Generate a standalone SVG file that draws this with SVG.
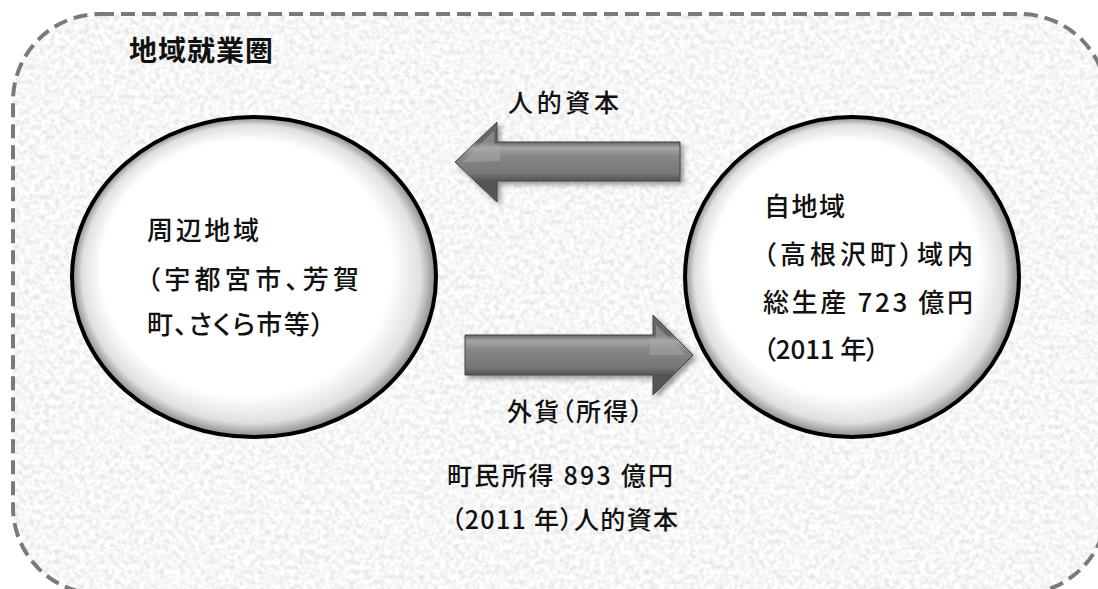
<svg xmlns="http://www.w3.org/2000/svg" width="1098" height="589" viewBox="0 0 1098 589">
  <style>
    .jp { font-family: "Noto Sans CJK JP", "Noto Sans CJK SC", sans-serif; font-feature-settings: "palt"; fill: #111; font-weight: 500; }
    .body { font-size: 26px; }
    .lbl { font-size: 25px; }
    .title { font-size: 28px; font-weight: bold; }
    .node { stroke: #000; stroke-width: 4; }
    .arrow { stroke: #444; stroke-width: 1; filter: url(#shadow); }
  </style>
  <defs>
    <filter id="tex" x="0" y="0" width="100%" height="100%" filterUnits="objectBoundingBox">
      <feTurbulence type="fractalNoise" baseFrequency="0.2" numOctaves="3" seed="7" result="n"/>
      <feColorMatrix in="n" type="matrix" values="0.45 0 0 0 0.7  0.45 0 0 0 0.7  0.45 0 0 0 0.7  0 0 0 0 1" result="g"/>
      <feComposite in="g" in2="SourceAlpha" operator="in"/>
    </filter>
    <filter id="shadow" x="-10%" y="-20%" width="130%" height="160%">
      <feDropShadow dx="3" dy="3" stdDeviation="2.5" flood-color="#000" flood-opacity="0.4"/>
    </filter>
    <radialGradient id="ball" cx="0.5" cy="0.5" r="0.5" fx="0.4" fy="0.36">
      <stop offset="0" stop-color="#ffffff"/>
      <stop offset="0.8" stop-color="#ffffff"/>
      <stop offset="0.93" stop-color="#e0e0e0"/>
      <stop offset="1" stop-color="#8a8a8a"/>
    </radialGradient>
    <linearGradient id="shaftTop" gradientUnits="userSpaceOnUse" x1="0" y1="142" x2="0" y2="181">
      <stop offset="0" stop-color="#666"/>
      <stop offset="0.15" stop-color="#a6a6a6"/>
      <stop offset="0.35" stop-color="#888"/>
      <stop offset="0.8" stop-color="#777"/>
      <stop offset="1" stop-color="#555"/>
    </linearGradient>
    <linearGradient id="shaftBot" gradientUnits="userSpaceOnUse" x1="0" y1="335" x2="0" y2="375">
      <stop offset="0" stop-color="#666"/>
      <stop offset="0.15" stop-color="#a6a6a6"/>
      <stop offset="0.35" stop-color="#888"/>
      <stop offset="0.8" stop-color="#777"/>
      <stop offset="1" stop-color="#555"/>
    </linearGradient>
  </defs>

  <rect width="1098" height="589" fill="#ffffff"/>

  <g id="frame">
    <rect x="13" y="14" width="1094" height="580" rx="87" ry="87" fill="#fff" filter="url(#tex)"/>
    <rect x="13" y="14" width="1094" height="580" rx="87" ry="87" fill="none" stroke="#7a7a7a" stroke-width="4" stroke-dasharray="14 7"/>
  </g>

  <g id="title">
    <text class="jp title" x="129" y="61" textLength="144" lengthAdjust="spacing">地域就業圏</text>
  </g>

  <g id="node-surrounding">
    <ellipse class="node" cx="254" cy="277" rx="182" ry="160" fill="url(#ball)"/>
    <text class="jp body" x="147" y="240" textLength="112" lengthAdjust="spacing">周辺地域</text>
    <text class="jp body" x="147" y="289" textLength="212" lengthAdjust="spacing">（宇都宮市、芳賀</text>
    <text class="jp body" x="147" y="334" textLength="177" lengthAdjust="spacing">町、さくら市等）</text>
  </g>

  <g id="node-home">
    <ellipse class="node" cx="852" cy="277" rx="167" ry="160" fill="url(#ball)"/>
    <text class="jp body" x="764" y="216" textLength="81" lengthAdjust="spacing">自地域</text>
    <text class="jp body" x="763" y="264" textLength="210" lengthAdjust="spacing">（高根沢町）域内</text>
    <text class="jp body" x="763" y="312" textLength="210" lengthAdjust="spacing">総生産 723 億円</text>
    <text class="jp body" x="763" y="359" textLength="116" lengthAdjust="spacing">（2011 年）</text>
  </g>

  <g id="connectors">
    <polygon class="arrow" points="455,162 497,122 497,142 680,142 680,181 497,181 497,202" fill="url(#shaftTop)"/>
    <polygon points="462,162 494,131 494,145 500,145 500,161" fill="#aaa" opacity="0.5"/>
    <text class="jp lbl" x="508" y="112" textLength="111" lengthAdjust="spacing">人的資本</text>

    <polygon class="arrow" points="465,335 653,335 653,315 693,355 653,395 653,375 465,375" fill="url(#shaftBot)"/>
    <polygon points="686,355 656,325 656,338 650,338 650,355" fill="#aaa" opacity="0.5"/>
    <text class="jp lbl" x="507" y="421" textLength="136" lengthAdjust="spacing">外貨（所得）</text>
  </g>

  <g id="income-note">
    <text class="jp lbl" x="447" y="485" textLength="226" lengthAdjust="spacing">町民所得 893 億円</text>
    <text class="jp lbl" x="451" y="529" textLength="227" lengthAdjust="spacing">（2011 年）人的資本</text>
  </g>
</svg>
